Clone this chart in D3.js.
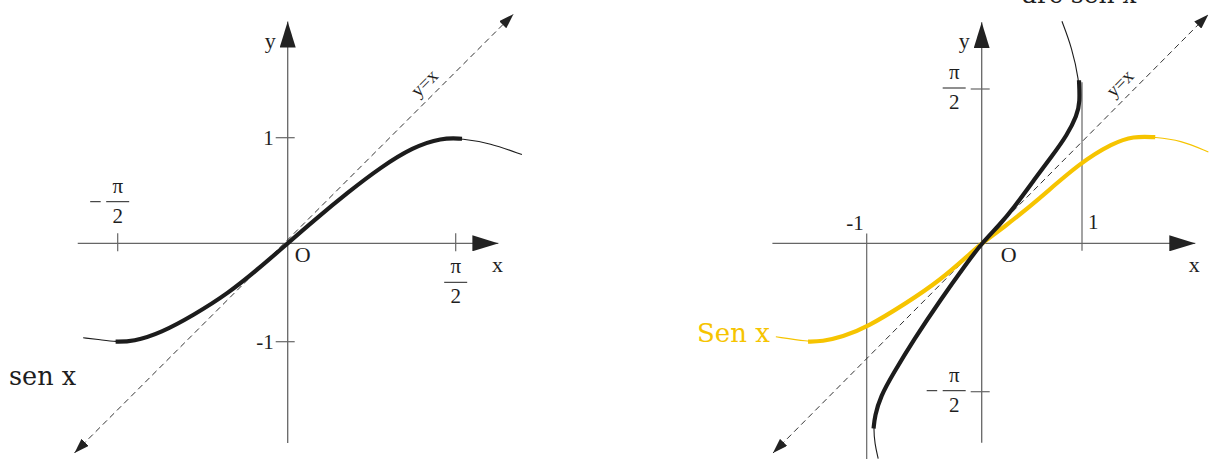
<!DOCTYPE html>
<html>
<head>
<meta charset="utf-8">
<script src="https://cdn.jsdelivr.net/npm/d3@7"></script>
<style>
  body { margin: 0; background: #fff; }
  svg { display: block; }
</style>
</head>
<body>
<div id="fig"></div>
<script>
const width = 1209
const height = 459
const HALF_PI = Math.PI / 2

// ---- left panel: sen x
const senX = [-1.89, -1.73, -1.59, -1.43, -1.17, -0.87, -0.55, -0.25, 0, 0.25, 0.56, 0.87, 1.17, 1.44, 1.63, 1.89, 2.19]
const senY = [-0.96, -0.98, -1.00, -1.00, -0.91, -0.73, -0.51, -0.24, 0, 0.22, 0.48, 0.72, 0.91, 1.00, 0.99, 0.95, 0.84]
const senMain = [-1.59, 1.63]            // heavy stretch, by x
const leftDiag = [[-1.97, -2.13], [2.11, 2.17]]
const leftXExtent = [-1.94, 1.97]
const leftYExtent = [-2.03, 2.10]
const leftXTicks = [-HALF_PI, HALF_PI]
const leftXTickLabels = ['−π/2', 'π/2']
const leftYTicks = [1, -1]
const leftYTickLabels = ['1', '-1']

// ---- right panel: Sen x and arc sen x
const sinX = [-1.79, -1.51, -1.39, -1.21, -1.00, -0.65, -0.36, -0.10, 0, 0.23, 0.56, 0.98, 1.31, 1.51, 1.73, 1.98, 2.26]
const sinY = [-0.99, -1.04, -1.04, -0.99, -0.89, -0.63, -0.39, -0.11, 0, 0.17, 0.44, 0.82, 1.02, 1.09, 1.08, 1.05, 0.93]
const sinMain = [-1.51, 1.73]            // by x
const arcX = [0.80, 0.90, 0.97, 0.98, 0.95, 0.85, 0.71, 0.51, 0.32, 0.18, 0, -0.13, -0.36, -0.59, -0.77, -0.88, -0.93, -0.94, -0.93, -0.90]
const arcY = [2.26, 1.99, 1.66, 1.44, 1.30, 1.10, 0.90, 0.63, 0.36, 0.19, 0, -0.21, -0.60, -1.02, -1.38, -1.62, -1.83, -1.96, -2.12, -2.28]
const arcMain = [-1.96, 1.66]            // by y
const rightDiag = [[-1.815, -2.22], [2.26, 2.33]]
const rightXExtent = [-1.82, 2.13]
const rightYExtent = [-2.11, 2.25]
const guideX = [-1, 1]
const guideTop = [0.10, 1.64]
const guideBottom = [-2.30, -0.08]
const guideLabels = ['-1', '1']
const rightYTicks = [HALF_PI, -HALF_PI]
const rightYTickLabels = ['π/2', '−π/2']

const axisColor = '#666'
const inkColor = '#1c1c1c'
const textColor = '#1e1e1e'
const yellow = '#f6c400'

// scales (piecewise, the drawing is not quite symmetric)
const lx = d3.scaleLinear().domain([-HALF_PI, 0, HALF_PI]).range([117.7, 287.7, 455.7])
const ly = d3.scaleLinear().domain([-1, 0, 1]).range([341.7, 243.3, 137.7])
const rx = d3.scaleLinear().domain([-1, 0, 1]).range([866.7, 981.7, 1082])
const ry = d3.scaleLinear().domain([-HALF_PI, 0, HALF_PI]).range([391.7, 243.3, 89])

const fig = d3.select('#fig')
            .append('svg')
            .attr('width', width)
            .attr('height', height)

const defs = fig.append('defs')
defs.append('marker')
    .attr('id', 'axis-arrow')
    .attr('viewBox', '0 0 26 16')
    .attr('refX', 26).attr('refY', 8)
    .attr('markerWidth', 26).attr('markerHeight', 16)
    .attr('markerUnits', 'userSpaceOnUse')
    .attr('orient', 'auto')
  .append('path')
    .attr('d', 'M0,0L26,8L0,16Z')
    .attr('fill', '#222')
defs.append('marker')
    .attr('id', 'diag-arrow')
    .attr('viewBox', '0 0 15 10')
    .attr('refX', 15).attr('refY', 5)
    .attr('markerWidth', 15).attr('markerHeight', 10)
    .attr('markerUnits', 'userSpaceOnUse')
    .attr('orient', 'auto-start-reverse')
  .append('path')
    .attr('d', 'M0,0L15,5L0,10Z')
    .attr('fill', '#222')

const zip = (xs, ys) => xs.map((x, i) => [x, ys[i]])

const label = (g, txt, x, y, anchor, size) => g.append('text')
    .attr('x', x).attr('y', y)
    .attr('text-anchor', anchor || 'start')
    .attr('font-family', '"Liberation Serif", "Times New Roman", serif')
    .attr('font-size', size || 21)
    .attr('fill', textColor)
    .text(txt)

// pi/2 style label, centred on cx with the bar at barY
const fraction = function(g, txt, cx, barY) {
    const neg = txt[0] === '−'
    const parts = txt.replace('−', '').split('/')
    g.append('line')
        .attr('x1', cx - 11.5).attr('x2', cx + 11.5)
        .attr('y1', barY).attr('y2', barY)
        .attr('stroke', textColor).attr('stroke-width', 1)
    label(g, parts[0], cx, barY - 9, 'middle', 21)
    label(g, parts[1], cx, barY + 21, 'middle', 21)
    if (neg) {
        g.append('line')
            .attr('x1', cx - 27.5).attr('x2', cx - 17)
            .attr('y1', barY).attr('y2', barY)
            .attr('stroke', textColor).attr('stroke-width', 1)
    }
}

const draw_axes = function(g, sx, sy, xExt, yExt) {
    g.append('line')
        .attr('x1', sx(xExt[0])).attr('x2', sx(xExt[1]))
        .attr('y1', sy(0)).attr('y2', sy(0))
        .attr('stroke', axisColor).attr('stroke-width', 1.3)
        .attr('marker-end', 'url(#axis-arrow)')
    g.append('line')
        .attr('x1', sx(0)).attr('x2', sx(0))
        .attr('y1', sy(yExt[0])).attr('y2', sy(yExt[1]))
        .attr('stroke', axisColor).attr('stroke-width', 1.3)
        .attr('marker-end', 'url(#axis-arrow)')
    label(g, 'x', sx(xExt[1]) - 1, sy(0) + 29, 'middle', 22)
    label(g, 'y', sx(0) - 12, sy(yExt[1]) + 26, 'end', 22)
}

const draw_diag = function(g, sx, sy, ends) {
    const p0 = [sx(ends[0][0]), sy(ends[0][1])]
    const p1 = [sx(ends[1][0]), sy(ends[1][1])]
    g.append('line')
        .attr('x1', p0[0]).attr('y1', p0[1])
        .attr('x2', p1[0]).attr('y2', p1[1])
        .attr('stroke', '#333').attr('stroke-width', 1)
        .attr('stroke-dasharray', '6,4')
        .attr('marker-start', 'url(#diag-arrow)')
        .attr('marker-end', 'url(#diag-arrow)')
    // "y=x" written along the line, a little above it
    const t = 0.82
    const px = p0[0] + t * (p1[0] - p0[0])
    const py = p0[1] + t * (p1[1] - p0[1])
    const ang = Math.atan2(p1[1] - p0[1], p1[0] - p0[0])
    const off = 8
    const cx = px + off * Math.sin(ang)
    const cy = py - off * Math.cos(ang)
    g.append('text')
        .attr('transform', `translate(${cx},${cy}) rotate(${ang * 180 / Math.PI})`)
        .attr('text-anchor', 'middle')
        .attr('font-family', '"Liberation Serif", "Times New Roman", serif')
        .attr('font-size', 19)
        .attr('fill', textColor)
        .text('y=x')
}

const draw_curve = function(g, sx, sy, pts, isMain, color) {
    const line = d3.line()
        .x(d => sx(d[0]))
        .y(d => sy(d[1]))
        .curve(d3.curveBasis)
    g.append('path')
        .attr('d', line(pts))
        .attr('fill', 'none')
        .attr('stroke', color).attr('stroke-width', 1.1)
    g.append('path')
        .attr('d', line(pts.filter(isMain)))
        .attr('fill', 'none')
        .attr('stroke', color).attr('stroke-width', 4.2)
        .attr('stroke-linecap', 'butt')
}

// ---------- left panel
const left = fig.append('g')
draw_axes(left, lx, ly, leftXExtent, leftYExtent)

leftXTicks.forEach(function(t, i) {
    left.append('line')
        .attr('x1', lx(t)).attr('x2', lx(t))
        .attr('y1', ly(0) - 10).attr('y2', ly(0) + 8)
        .attr('stroke', axisColor).attr('stroke-width', 1.2)
    const above = t < 0
    fraction(left, leftXTickLabels[i], lx(t), above ? ly(0) - 41.6 : ly(0) + 39)
})
leftYTicks.forEach(function(t, i) {
    left.append('line')
        .attr('x1', lx(0) - 12).attr('x2', lx(0) + 7)
        .attr('y1', ly(t)).attr('y2', ly(t))
        .attr('stroke', axisColor).attr('stroke-width', 1.2)
    label(left, leftYTickLabels[i], lx(0) - 14, ly(t) + 7, 'end', 21)
})
label(left, 'O', lx(0) + 7, ly(0) + 18.5, 'start', 22)

draw_diag(left, lx, ly, leftDiag)
draw_curve(left, lx, ly, zip(senX, senY), d => d[0] >= senMain[0] && d[0] <= senMain[1], inkColor)

left.append('text')
    .attr('x', 9).attr('y', 385)
    .attr('font-family', '"DejaVu Serif", serif')
    .attr('font-size', 25.5)
    .attr('fill', textColor)
    .text('sen x')

// ---------- right panel
const right = fig.append('g')
draw_axes(right, rx, ry, rightXExtent, rightYExtent)

guideX.forEach(function(gx, i) {
    right.append('line')
        .attr('x1', rx(gx)).attr('x2', rx(gx))
        .attr('y1', ry(guideTop[i])).attr('y2', ry(guideBottom[i]))
        .attr('stroke', axisColor).attr('stroke-width', 1.2)
    if (gx < 0) label(right, guideLabels[i], rx(gx) - 3, ry(0) - 13, 'end', 21)
    else label(right, guideLabels[i], rx(gx) + 6, ry(0) - 14, 'start', 21)
})
rightYTicks.forEach(function(t, i) {
    right.append('line')
        .attr('x1', rx(0) - 11).attr('x2', rx(0) + 8)
        .attr('y1', ry(t)).attr('y2', ry(t))
        .attr('stroke', axisColor).attr('stroke-width', 1.2)
    fraction(right, rightYTickLabels[i], rx(0) - 27.5, ry(t) - 1)
})
label(right, 'O', rx(0) + 19, ry(0) + 19, 'start', 22)

draw_diag(right, rx, ry, rightDiag)
draw_curve(right, rx, ry, zip(sinX, sinY), d => d[0] >= sinMain[0] && d[0] <= sinMain[1], yellow)
draw_curve(right, rx, ry, zip(arcX, arcY), d => d[1] >= arcMain[0] && d[1] <= arcMain[1], inkColor)

right.append('text')
    .attr('x', 697).attr('y', 342)
    .attr('font-family', '"DejaVu Serif", serif')
    .attr('font-size', 26)
    .attr('fill', yellow)
    .text('Sen x')
right.append('text')
    .attr('x', 1022).attr('y', 3)
    .attr('font-family', '"DejaVu Serif", serif')
    .attr('font-size', 25)
    .attr('fill', textColor)
    .text('arc sen x')
</script>
</body>
</html>
